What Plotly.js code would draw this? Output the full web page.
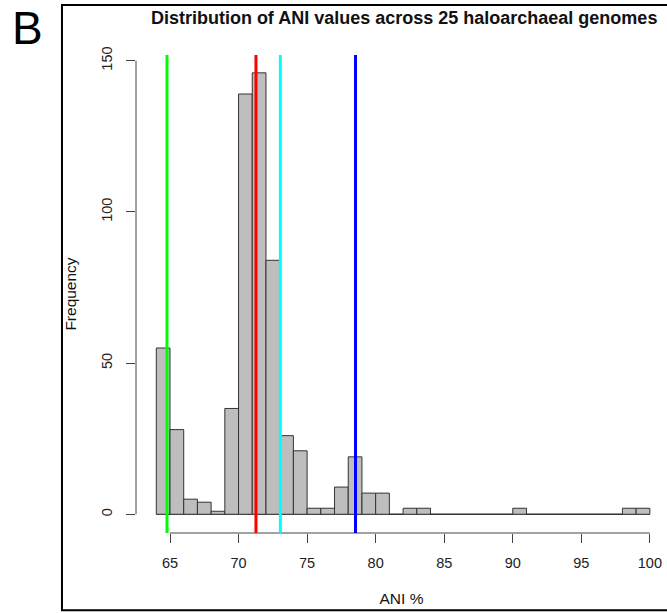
<!DOCTYPE html>
<html>
<head>
<meta charset="utf-8">
<script src="https://cdn.plot.ly/plotly-3.0.1.min.js"></script>
<style>
  html, body { margin: 0; padding: 0; background: #fff; }
  #chart { width: 667px; height: 613px; }
</style>
</head>
<body>
<div id="chart"></div>
<script>
// Histogram of pairwise ANI values, 1-unit bins from 64 to 100
const binStart = [64, 65, 66, 67, 68, 69, 70, 71, 72, 73, 74, 75, 76, 77, 78, 79, 80, 81,
                  82, 83, 84, 85, 86, 87, 88, 89, 90, 91, 92, 93, 94, 95, 96, 97, 98, 99];
const counts   = [55, 28, 5, 4, 1, 35, 139, 146, 84, 26, 21, 2, 2, 9, 19, 7, 7, 0,
                  2, 2, 0, 0, 0, 0, 0, 0, 2, 0, 0, 0, 0, 0, 0, 0, 2, 2];

// Reference ANI thresholds drawn as vertical lines
const refValues = [64.78, 71.27, 73.05, 78.53];
const refColors = ['#00ff00', '#ff0000', '#00ffff', '#0000ff'];

const xTicks = [65, 70, 75, 80, 85, 90, 95, 100];
const yTicks = [0, 50, 100, 150];

const titleText = 'Distribution of ANI values across 25 haloarchaeal genomes';
const panelLetter = 'B';

const binWidth = 1;
const xCenters = binStart.map(b => b + binWidth / 2);

const font = 'Liberation Sans, Arial, Helvetica, sans-serif';

const bars = {
  type: 'bar',
  x: xCenters,
  y: counts,
  width: binWidth,
  marker: { color: '#bebebe', line: { color: '#333333', width: 1 } },
  hoverinfo: 'x+y',
  showlegend: false
};

const shapes = [];

// R-style axis segments spanning only the tick range
shapes.push({ type: 'line', xref: 'paper', yref: 'y', x0: 0, x1: 0,
  y0: yTicks[0], y1: yTicks[yTicks.length - 1], line: { color: '#444', width: 1 } });
shapes.push({ type: 'line', xref: 'x', yref: 'paper', y0: 0, y1: 0,
  x0: xTicks[0], x1: xTicks[xTicks.length - 1], line: { color: '#444', width: 1 } });

// zero-count bins still show as a flat line along the baseline
shapes.push({ type: 'line', xref: 'x', yref: 'y', y0: 0, y1: 0,
  x0: binStart[0], x1: binStart[binStart.length - 1] + binWidth,
  line: { color: '#444', width: 1 }, layer: 'below' });

refValues.forEach((v, i) => {
  shapes.push({ type: 'line', xref: 'x', yref: 'paper', x0: v, x1: v, y0: 0, y1: 1,
    line: { color: refColors[i], width: 3 } });
});

// outer panel frame (open on the right)
shapes.push({ type: 'path', xref: 'paper', yref: 'paper',
  path: 'M 1.02 1.1047 L -0.1394 1.1047 L -0.1394 -0.1618 L 1.02 -0.1618',
  line: { color: '#000', width: 2 } });

const layout = {
  width: 667,
  height: 613,
  margin: { l: 136, r: 0, t: 55, b: 80.3, pad: 0 },
  paper_bgcolor: '#ffffff',
  plot_bgcolor: '#ffffff',
  font: { family: font, color: '#000', size: 14 },
  showlegend: false,
  bargap: 0,
  title: {
    text: '<b>' + titleText + '</b>',
    font: { family: font, size: 18, color: '#111' },
    xref: 'paper', x: 0.505, xanchor: 'center',
    yref: 'container', y: 1 - 18 / 613, yanchor: 'middle'
  },
  xaxis: {
    range: [62.52, 101.25],
    tickvals: xTicks,
    ticktext: xTicks.map(String),
    ticks: 'outside', ticklen: 9, tickwidth: 1, tickcolor: '#444',
    ticklabelstandoff: 8,
    showline: false, showgrid: false, zeroline: false,
    tickfont: { family: font, size: 14.5, color: '#222' },
    title: { text: 'ANI %', font: { family: font, size: 15.5, color: '#111' }, standoff: 22 },
    fixedrange: true
  },
  yaxis: {
    range: [-6.19, 151.9],
    tickvals: yTicks,
    ticktext: yTicks.map(String),
    tickangle: -90,
    ticks: 'outside', ticklen: 9, tickwidth: 1, tickcolor: '#444',
    ticklabelstandoff: 8,
    showline: false, showgrid: false, zeroline: false,
    tickfont: { family: font, size: 14.5, color: '#222' },
    title: { text: 'Frequency', font: { family: font, size: 15.5, color: '#111' }, standoff: 18 },
    fixedrange: true
  },
  shapes: shapes,
  annotations: [{
    text: panelLetter, xref: 'paper', yref: 'paper',
    x: -0.237, y: 1.0565, xanchor: 'left', yanchor: 'middle',
    showarrow: false, font: { family: font, size: 46, color: '#000' }
  }]
};

Plotly.newPlot('chart', [bars], layout, { displayModeBar: false, staticPlot: true });
</script>
</body>
</html>
